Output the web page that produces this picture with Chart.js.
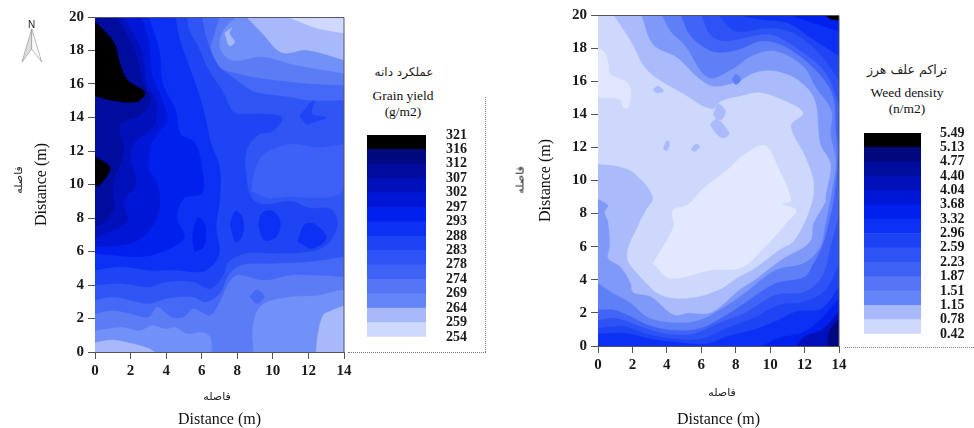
<!DOCTYPE html>
<html><head><meta charset="utf-8">
<style>
html,body{margin:0;padding:0;background:#fff;overflow:hidden}
body{width:974px;height:428px;position:relative}
canvas{position:absolute}
.t{position:absolute;transform:translate(-50%,-50%);white-space:nowrap;font-family:"Liberation Serif",serif;color:#111;line-height:1}
.fa{font-family:"DejaVu Sans",sans-serif;direction:rtl;color:#222}
.v{transform:translate(-50%,-50%) rotate(-90deg)}
.d{position:absolute;border:0 dotted #777}
</style>
<script src="https://cdn.jsdelivr.net/npm/chart.js@4/dist/chart.umd.min.js"></script>
</head><body>
<canvas id="c1"></canvas><canvas id="l1"></canvas><canvas id="c2"></canvas><canvas id="l2"></canvas>
<div class="d" style="left:485px;top:97px;height:255px;border-left-width:1px"></div>
<div class="d" style="left:348px;top:352px;width:138px;border-top-width:1px"></div>
<div class="d" style="left:845px;top:347px;width:129px;border-top-width:1px"></div>
<svg style="position:absolute;left:20px;top:18px" width="24" height="46" viewBox="0 0 24 46">
<path d="M11.7 11L2 44L11.7 31Z" fill="#ddd" stroke="#888" stroke-width=".6"/>
<path d="M11.7 11L21.7 44L11.7 31Z" fill="#fff" stroke="#888" stroke-width=".6"/>
<text x="11.7" y="10" text-anchor="middle" font-family="Liberation Sans" font-size="10" fill="#222">N</text></svg>
<div class="t fa v" style="left:18px;top:180px;font-size:11px">فاصله</div>
<div class="t fa" style="left:217px;top:396px;font-size:11px">فاصله</div>
<div class="t fa" style="left:404px;top:72px;font-size:12px">عملکرد دانه</div>
<div class="t" style="left:403px;top:96px;font-size:13.5px">Grain yield</div>
<div class="t" style="left:403px;top:112px;font-size:13.5px">(g/m2)</div>
<div class="t fa v" style="left:520px;top:180px;font-size:11px">فاصله</div>
<div class="t fa" style="left:722px;top:392px;font-size:11px">فاصله</div>
<div class="t fa" style="left:907px;top:70px;font-size:12.5px">تراکم علف هرز</div>
<div class="t" style="left:907px;top:93px;font-size:13.5px">Weed density</div>
<div class="t" style="left:907px;top:109px;font-size:13.5px">(n/m2)</div>
<script>
// legend levels, top to bottom
const grainLevels = ['321','316','312','307','302','297','293','288','283','278','274','269','264','259','254'];
const weedLevels = ['5.49','5.13','4.77','4.40','4.04','3.68','3.32','2.96','2.59','2.23','1.87','1.51','1.15','0.78','0.42'];
const bandUnits = [1,1,1,1,1,1,1,1,1,1,1,1,1,1];
// colours of the legend bands, lowest level first
const C = ['#cfd9fd','#a7b9fb','#6485f7','#5575f6','#3f62f6','#2d52f5','#1c42f4','#0c30f4','#0020ee','#0016d6','#0010ba','#000c9e','#00087e','#000000'];

// Grain yield contour regions (x m, y m)
const grainAll = [[0,0],[14,0],[14,20],[0,20]];
const grain259 = [[0,0],[14,0],[14,19],[12.5,19.3],[11,19.9],[10.6,20],[0,20]];
const grain264 = [[0,.6],[1,.75],[2,.55],[3,.25],[3.4,0],[12.4,0],[12.5,1],[12.8,2.2],[13.3,2.5],[14,2.8],[14,17.4],[11.9,18],[10.5,17.85],[9.4,19],[8.5,20],[0,20]];
const grain269 = [[0,1.3],[1.5,1.5],[2.5,1.3],[3.2,1.6],[4,1.4],[4.5,1.5],[5.2,1.1],[6,1.2],[6.5,.9],[6.6,0],[8.9,0],[8.85,1.5],[9.35,2.8],[10.9,3.3],[12.6,3.4],[13.7,3.7],[14,3.7],[14,16.6],[11.3,17.1],[9.4,17.6],[7.7,17.4],[7,18.2],[7.2,19.2],[7.9,20],[0,20]];
const grain274 = [[0,2.3],[1,2.5],[2,2.3],[3,2.1],[3.5,2.7],[4.3,2.1],[5,2.1],[5.5,2.6],[6,2.4],[6.5,2.2],[7,3],[7.5,4.1],[8,4.6],[9.5,4.3],[11,4.6],[12.5,4.6],[14,4.5],[14,15.9],[12,16],[9.5,16.3],[8,16.6],[7,17],[6.5,18],[6.7,19],[7,20],[0,20]];
const grain278 = [[0,3.1],[1,3.3],[2,3.1],[3,2.9],[4,3.2],[5.5,3.3],[6.2,3],[7,3.5],[7.5,4.6],[8.2,5.2],[10,5.3],[12,5.4],[14,5.7],[14,15],[12,15],[11,15.2],[9,15.5],[8.5,15.8],[7.6,16.5],[7,17],[6.5,18],[6.2,19],[6,20],[0,20]];
const grainPatch = [[8.8,9.6],[9.8,9.2],[11,9.3],[12.3,9.2],[13.7,9.4],[14,10],[14,12.4],[12.5,12.2],[11,12.4],[9.5,11.8],[9,10.8],[8.8,9.6]];
const grain283 = [[0,4],[1.5,4.1],[3,3.9],[4,4.2],[5.5,4.2],[6.5,3.8],[7.2,4.6],[7.5,5.4],[8.5,5.9],[10,5.9],[12,6],[13,6.4],[13.6,7.5],[13.3,8.5],[12,8.6],[11,9],[9.5,8.8],[8.8,9.2],[8.5,10.5],[8.5,12],[9.2,13],[10,13.2],[10.5,14],[9.5,14.2],[8.6,14.2],[7.8,14.3],[7.2,15.5],[6.4,16.8],[5.8,18.2],[5.3,19.2],[5.15,20],[0,20]];
const grainStar = [[11.5,14.1],[12.3,15],[12.2,14.2],[13,14],[12.2,13.7],[11.9,13.6],[11.5,14.1]];
const grain288 = [[0,4.9],[1.5,5.1],[3,4.9],[4.5,4.9],[6,4.8],[6.7,5.3],[7,6],[6.8,7.5],[7,9],[7,11],[6.5,12.5],[6.2,14],[5.8,15.5],[5.3,17],[4.8,18.5],[4.5,20],[0,20]];
const grainBlobA = [[9.2,7.6],[9.5,6.7],[10.2,6.9],[10.4,7.8],[10,8.4],[9.4,8.3],[9.2,7.6]];
const grainBlobB = [[11.4,6.6],[12.2,6.2],[13,6.8],[12.4,7.6],[11.8,7.6],[11.4,6.6]];
const grainBlobC = [[7.6,7.6],[7.9,6.6],[8.3,7],[8.3,8],[7.9,8.4],[7.6,7.6]];
const grain293 = [[0,5.9],[2.5,5.7],[3.8,6],[5,6.8],[4.6,8],[5,9.2],[6,9.5],[6,11],[5.6,12.5],[4.8,13],[4.5,14.5],[3.8,16],[3.6,18],[3,20],[0,20]];
const grainBlobD = [[5.6,6],[6.1,6.3],[6.2,7.5],[5.8,8],[5.5,7],[5.6,6]];
const grain297 = [[0,6.3],[2,6.5],[3,7.2],[3.6,8.5],[3.5,10],[3,11],[3.2,12.5],[4,13.8],[3.8,15],[3.2,16.5],[3,18.5],[2.6,20],[0,20]];
const grain302 = [[0,6.8],[.8,7.2],[1.8,7.8],[1.6,9],[2.3,10],[2,11.5],[2.2,12.5],[3.3,13.5],[3.4,15],[2.9,16],[2.6,18],[1.6,20],[0,20]];
const grain307 = [[0,7.6],[.3,7.6],[1,8.5],[1,10],[1.6,12],[1.4,13.6],[2.6,14.2],[3.1,15.2],[2.7,16],[2.2,18],[1.2,20],[0,20]];
const grain316A = [[0,19.7],[.5,19.2],[1.1,18.4],[1.4,17.2],[1.85,16.2],[2.8,15.5],[2.35,14.95],[.84,15.05],[0,15.3]];
const grain316B = [[0,11.65],[.84,11],[.3,10],[0,9.9]];
const grainHook = [[7.3,19.05],[7.7,19.35],[7.55,19.05],[7.85,18.5],[7.55,18.3],[7.3,19.05]];
const grainSpot = [[8.7,3.3],[9.1,3.7],[9.5,3.3],[9.1,2.9],[8.7,3.3]];

// Weed density contour regions (x m, y m)
const weedAll = [[0,0],[14,0],[14,20],[0,20]];
const weed440 = [[0,0],[13.3,0],[13.4,.8],[13.6,1.2],[14,1.6],[14,20],[0,20]];
const weed368 = [[0,0],[11.5,0],[12,.6],[13,1],[14,2.1],[14,19.6],[13,20],[0,20]];
const weed332 = [[0,0],[9.5,0],[10.5,.5],[11.8,.8],[12.8,1.5],[14,2.9],[14,19],[12.5,19.5],[11,20],[0,20]];
const weed296 = [[0,.75],[1.5,.8],[3,.45],[4.5,.25],[6.3,.15],[7.5,.6],[9,1],[10.5,1.6],[11.5,2.1],[13,2.3],[14,3.6],[14,17.5],[12.5,18.5],[11,19.5],[9.5,19.7],[8,20],[0,20]];
const weed259 = [[0,1.1],[1.5,1.2],[3,.7],[4.5,.45],[6,.45],[7.5,1.1],[9,1.7],[10.5,2.5],[12,2.7],[13.2,3.4],[14,5],[14,16],[13,17.5],[11.5,18.8],[10,19.2],[8,19],[7,20],[0,20]];
const weed223 = [[0,1.6],[1,1.7],[2.5,1.2],[4,.75],[5.5,.75],[7,1.4],[8.5,2],[10.3,3.1],[12,3.3],[13,4.2],[13.5,6],[14,8],[14,14.5],[13.2,16.5],[11.5,18],[10,18.8],[8.5,18.6],[7.3,18.4],[6.5,18.8],[6,20],[0,20]];
const weed187 = [[0,2.2],[.9,2.2],[1.9,1.8],[2.9,1.3],[4.2,1],[5.8,1.05],[7.3,1.8],[8.5,2.6],[10.3,3.8],[12,4.2],[12.5,5],[13,6],[13.4,7.5],[13.7,9],[13.9,11.5],[13.8,13],[13.6,15.2],[12.5,16.8],[10.8,18.1],[9.5,18.4],[8.2,17.9],[7,17.7],[6.2,18],[5.3,18.8],[4.8,20],[0,20]];
const weed151 = [[0,3.8],[.9,3.2],[1.9,2.6],[2.9,1.75],[4.2,1.45],[5.8,1.55],[7.3,2.35],[8.5,3.2],[10.3,4.6],[12,5.05],[12.9,6],[13.2,7.4],[13.6,9.5],[13.8,11.2],[13.5,12.8],[13.55,14.2],[12.65,15.6],[11.9,16.9],[10.3,17.8],[8.9,17.5],[7.8,16.7],[6.4,16.2],[5,18.2],[4.2,19],[3.7,20],[0,20]];
const weed115 = [[0,8.9],[.6,8.5],[.4,8.1],[.6,7.5],[.7,6],[.6,5.3],[1.3,4.8],[1.9,3.8],[2.05,3.25],[3.05,3],[4.4,1.9],[5.2,2],[6.6,2.05],[8.2,3.4],[9.1,4],[10.6,5.2],[12.3,6.3],[12.5,7.4],[13.2,8.7],[13.2,9],[13.5,11],[12.9,12.2],[12.6,14.8],[11.7,16],[10.3,16.6],[9.1,16.5],[8.2,16],[7.2,15.7],[6.6,15.7],[5.8,16.2],[4.6,17.4],[3.2,18.2],[2.5,20],[0,20]];
const weed078 = [[0,11],[1,10.9],[2.05,10.5],[3.2,9],[2.8,8.2],[2.4,7.4],[1.7,5.4],[2.65,4],[3.65,3.1],[5.2,2.9],[7,3.4],[8.2,4.2],[9.1,4.7],[10.5,5.8],[11.4,6.4],[12.4,8.6],[12.5,10],[12,11.5],[11.2,13.3],[11.9,14.1],[10.5,14.95],[9.35,15.3],[8.35,15.1],[7.2,14.8],[6.6,14.3],[5,15.2],[2.9,16.6],[1.9,18.4],[.9,20],[0,20]];
const weed042 = [[3.2,5],[4.2,4.1],[6.6,4.6],[8.35,4.75],[9.7,6],[10.9,7.4],[11.5,8.2],[10.7,8.6],[11.2,8.8],[10.4,10.9],[9.7,12.1],[8.35,11.45],[7.7,10.8],[6.6,9.9],[6.1,9.5],[5.2,8.5],[4.35,8.2],[4.4,7.2],[3.2,5]];
const weedPatch = [[0,18],[.4,17.7],[.6,17],[.7,16.4],[1.6,16],[1.9,15.5],[1.75,14.4],[1.5,14.4],[1.3,14.9],[0,15]];
const weedSpotA = [[3.2,15.5],[3.5,15.7],[3.8,15.4],[3.4,15.3],[3.2,15.5]];
const weedSpotB = [[6.7,14],[7,14.6],[7.4,14.2],[7.2,13.7],[6.9,13.7],[6.7,14]];
const weedSpotC = [[6.5,13.4],[6.9,13.7],[7.6,12.9],[7.4,12.6],[7,12.7],[6.5,13.4]];
const weedSpotD = [[3.8,11.9],[4,12.4],[4.15,12.3],[4,11.8],[3.8,11.9]];
const weedSpotE = [[5.4,11.9],[5.7,12.2],[5.9,12.05],[5.6,11.75],[5.4,11.9]];
const weedSpotF = [[7.8,16.1],[8,16.4],[8.3,16.1],[8,15.8],[7.8,16.1]];
const weedCorner = [[13.2,20],[14,20],[14,19.7],[13.5,19.75]];

const distanceTitle = 'Distance (m)';
const xTicks = 2, yTicks = 2;
const SERIF = '"Liberation Serif", serif';

const grainRegions = [[grainAll,C[0]],[grain259,C[1]],[grain264,'#7190f8'],[grain269,'#5c7cf6'],[grain274,'#4668f6'],[grain278,'#2f55f5'],[grainPatch,'#3d60f6'],[grain283,'#1f44f4'],[grainStar,'#1f44f4'],[grain288,'#0c30f4'],[grainBlobA,'#0c30f4'],[grainBlobB,'#0c30f4'],[grainBlobC,'#0c30f4'],[grain293,'#0020ee'],[grainBlobD,'#0020ee'],[grain297,'#0016d6'],[grain302,C[10]],[grain307,C[11]],[grain316A,C[13]],[grain316B,C[13]],[grainHook,C[1]],[grainSpot,'#4668f6']];
const weedRegions = [[weedAll,C[12]],[weed440,C[10]],[weed368,'#0020ee'],[weed332,'#0c30f4'],[weed296,'#1f44f4'],[weed259,'#2d52f5'],[weed223,'#4264f6'],[weed187,'#5f7ff7'],[weed151,'#7f99f9'],[weed115,'#a9bbfa'],[weed078,'#cdd8fc'],[weed042,'#e2e8fd'],[weedPatch,'#dfe6fd'],[weedSpotA,'#a9bbfa'],[weedSpotB,'#a9bbfa'],[weedSpotC,'#a9bbfa'],[weedSpotD,'#a9bbfa'],[weedSpotE,'#a9bbfa'],[weedSpotF,'#5f7ff7'],[weedCorner,C[13]]];

const frame = {id:'frame',afterDatasetsDraw(ch){const a=ch.chartArea,g=ch.ctx;g.save();g.strokeStyle='#556';g.lineWidth=1;g.beginPath();g.moveTo(a.left,a.top+.5);g.lineTo(a.right,a.top+.5);g.lineTo(a.right,a.bottom);g.stroke();g.restore();}};

function place(id,l,t,w,h){const c=document.getElementById(id);c.width=w;c.height=h;c.style.cssText='left:'+l+'px;top:'+t+'px;width:'+w+'px;height:'+h+'px';return c;}
// a vertex on the plot edge stays a sharp corner: doubling it removes the curve's tangent there
const onEdge = p => p[0]===0||p[0]===14||p[1]===0||p[1]===20;
const sharpen = pts => pts.flatMap(p => onEdge(p)?[p,p]:[p]);

function panel(id,regions,p){
  const cv=place(id,p.left,0,p.width,428);
  const tick={color:'#1a1a1a',font:{family:SERIF,size:15,weight:'bold'},autoSkip:false,maxRotation:0};
  new Chart(cv,{type:'scatter',
    data:{datasets:regions.slice().reverse().map((r,i)=>({data:sharpen(r[0]),showLine:true,fill:'shape',backgroundColor:r[1],borderColor:r[1],borderWidth:.6,pointRadius:0,tension:.35,label:'band'+i}))},
    options:{responsive:false,animation:false,events:[],
      layout:{padding:{top:p.top,right:p.right,left:0,bottom:0}},
      plugins:{legend:{display:false},tooltip:{enabled:false}},
      scales:{
        x:{type:'linear',min:0,max:14,afterFit(s){s.height=p.xh;},
          ticks:Object.assign({stepSize:xTicks,padding:p.xpad},tick),
          grid:{drawOnChartArea:false,tickLength:7,color:'#555'},border:{color:'#555'},
          title:{display:true,text:distanceTitle,color:'#111',font:{family:SERIF,size:16,lineHeight:1},padding:{top:p.xTitleOff,bottom:0}}},
        y:{type:'linear',min:0,max:20,afterFit(s){s.width=p.yw;},
          ticks:Object.assign({stepSize:yTicks,padding:4},tick),
          grid:{drawOnChartArea:false,tickLength:7,color:'#555'},border:{color:'#555'},
          title:{display:true,text:distanceTitle,color:'#111',font:{family:SERIF,size:16,lineHeight:1},padding:{top:p.yTitleOff,bottom:0}}}
      }},plugins:[frame]});
}
function legendBar(id,levels,p){
  const cv=place(id,p.left,p.top-12,p.width,p.height+26);
  new Chart(cv,{type:'bar',
    data:{labels:['band'],datasets:bandUnits.map((u,i)=>({data:[u],backgroundColor:C[i],borderWidth:0,barPercentage:1,categoryPercentage:1}))},
    options:{responsive:false,animation:false,events:[],
      layout:{padding:{top:12,bottom:14,left:0,right:0}},
      plugins:{legend:{display:false},tooltip:{enabled:false}},
      scales:{
        x:{display:false,stacked:true},
        y:{position:'right',stacked:true,min:0,max:bandUnits.length,afterFit(s){s.width=p.axis;},
          grid:{drawOnChartArea:false,drawTicks:true,tickLength:p.pad,color:'rgba(0,0,0,0)'},border:{display:false},
          ticks:{stepSize:1,autoSkip:false,padding:0,color:'#1a1a1a',font:{family:SERIF,size:14,weight:'bold'},
            callback:v=>levels[bandUnits.length-v]}}
      }}});
}
panel('c1',grainRegions,{left:0,width:362,top:17,right:18,xh:76,yw:95,xpad:3,xTitleOff:0,yTitleOff:34});
legendBar('l1',grainLevels,{left:367,top:135,width:105,height:202,axis:46,pad:20});
panel('c2',weedRegions,{left:500,width:356,top:15,right:17,xh:82,yw:98,xpad:3,xTitleOff:4,yTitleOff:38});
legendBar('l2',weedLevels,{left:864,top:133,width:105,height:201,axis:48,pad:19});
</script>
</body></html>
